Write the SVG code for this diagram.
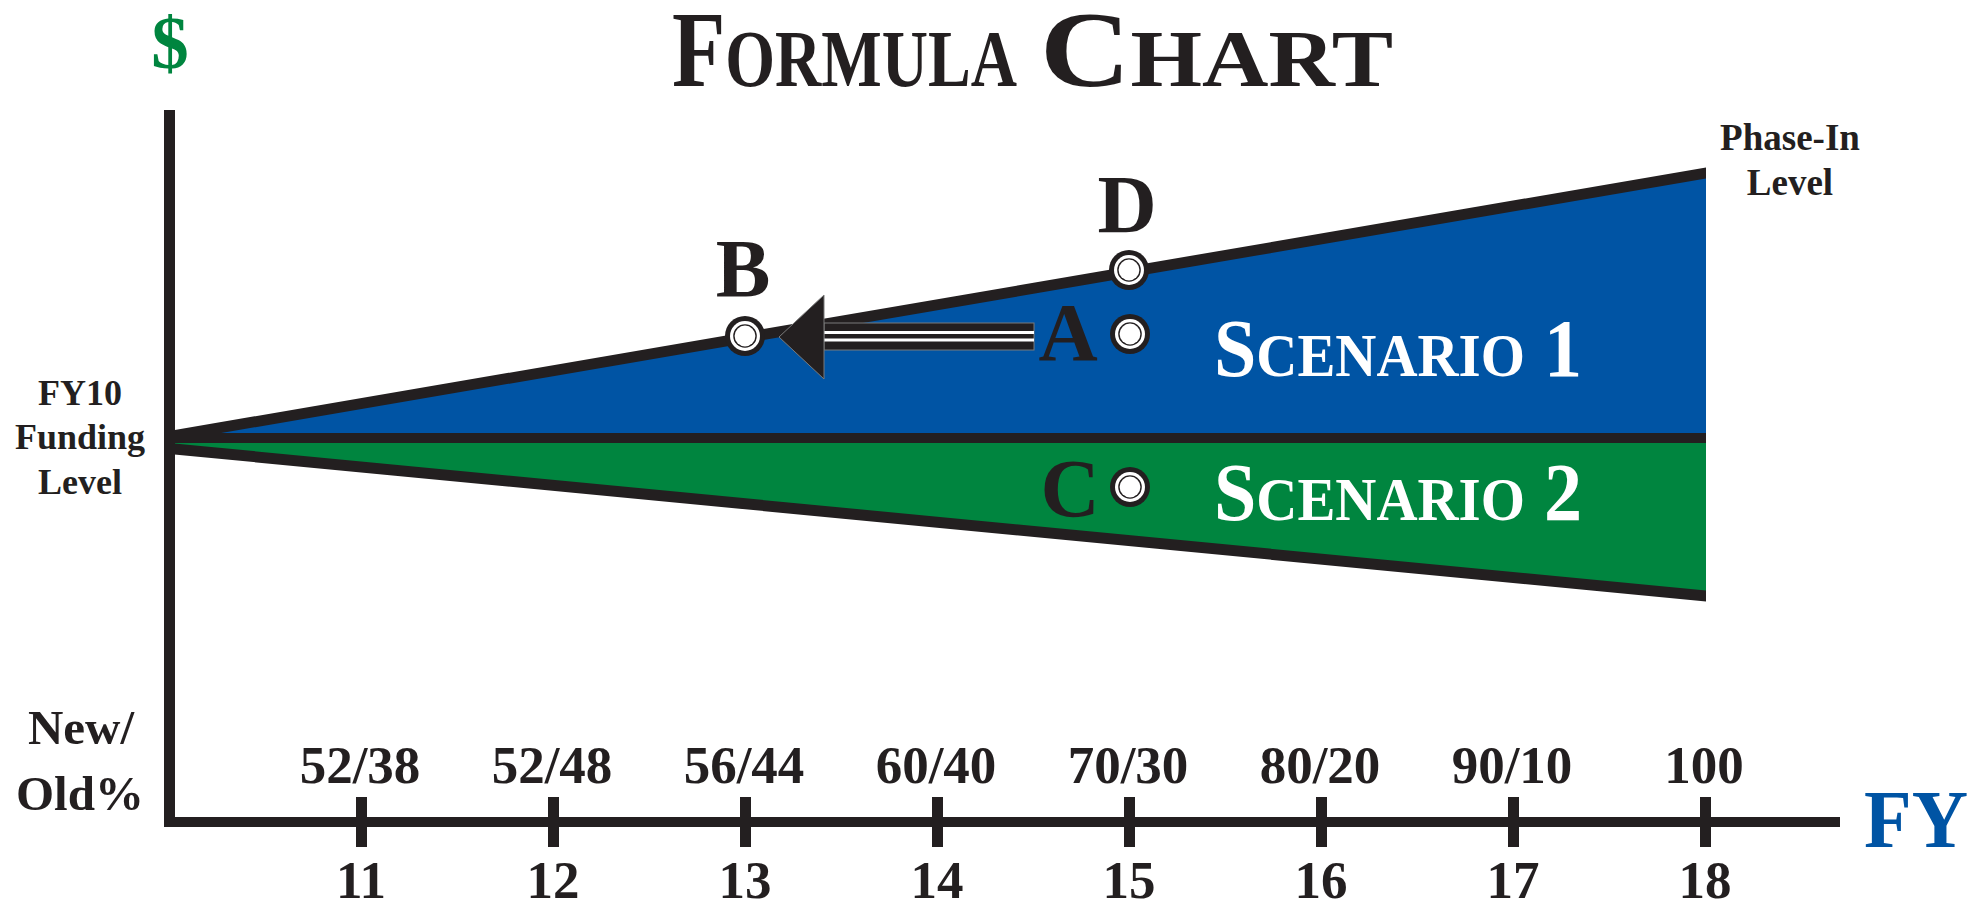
<svg xmlns="http://www.w3.org/2000/svg" xmlns:xlink="http://www.w3.org/1999/xlink" width="1984" height="904" viewBox="0 0 1984 904">
<style>
.t{font-family:"Liberation Serif","Times New Roman",serif;font-weight:bold;fill:#231f20}
.mid{text-anchor:middle}
.lbl{font-size:53px}
.side{font-size:36px}
.pt{font-size:82px}
.wh{fill:#ffffff}
.ink{fill:#231f20}
</style>
<defs>
<g id="dot">
<circle r="20" fill="#231f20"/>
<circle r="15" fill="#ffffff"/>
<circle r="11.8" fill="#231f20"/>
<circle r="10.4" fill="#ffffff"/>
</g>
</defs>
<rect width="1984" height="904" fill="#ffffff"/>

<g id="title">
<text class="t" x="672" y="86" font-size="109" textLength="345" lengthAdjust="spacingAndGlyphs">F<tspan font-size="80">ORMULA</tspan></text>
<text class="t" x="1040" y="86" font-size="109" textLength="353" lengthAdjust="spacingAndGlyphs">C<tspan font-size="80">HART</tspan></text>
</g>

<g id="dollar"><text class="t mid" x="170" y="68" font-size="75" style="fill:#00853f">$</text></g>

<g id="regions">
<polygon points="169,437 1706,173 1706,438 169,438" fill="#0054a4"/>
<polygon points="169,438 1706,438 1706,596 169,448" fill="#00853f"/>
<polygon points="169,431 1706,167.5 1706,178.5 169,442" class="ink"/>
<rect x="169" y="433" width="1537" height="10" class="ink"/>
<polygon points="169,443 1706,590.5 1706,601.5 169,454" class="ink"/>
</g>

<g id="axes">
<rect x="164" y="110" width="11" height="717" class="ink"/>
<rect x="164" y="817" width="1676" height="10" class="ink"/>
<rect x="356" y="797" width="11" height="50" class="ink"/>
<rect x="548" y="797" width="11" height="50" class="ink"/>
<rect x="740" y="797" width="11" height="50" class="ink"/>
<rect x="932" y="797" width="11" height="50" class="ink"/>
<rect x="1124" y="797" width="11" height="50" class="ink"/>
<rect x="1316" y="797" width="11" height="50" class="ink"/>
<rect x="1508" y="797" width="11" height="50" class="ink"/>
<rect x="1700" y="797" width="11" height="50" class="ink"/>
</g>

<g id="fy-label"><text class="t" x="1864" y="847" font-size="82" textLength="104" lengthAdjust="spacingAndGlyphs" style="fill:#0054a4">FY</text></g>

<g id="ratio-labels" class="t mid lbl">
<text x="360" y="783">52/38</text>
<text x="552" y="783">52/48</text>
<text x="744" y="783">56/44</text>
<text x="936" y="783">60/40</text>
<text x="1128" y="783">70/30</text>
<text x="1320" y="783">80/20</text>
<text x="1512" y="783">90/10</text>
<text x="1704" y="783">100</text>
</g>

<g id="year-labels" class="t mid lbl">
<text x="361" y="898">11</text>
<text x="553" y="898">12</text>
<text x="745" y="898">13</text>
<text x="937" y="898">14</text>
<text x="1129" y="898">15</text>
<text x="1321" y="898">16</text>
<text x="1513" y="898">17</text>
<text x="1705" y="898">18</text>
</g>

<g id="new-old" class="t mid" font-size="49">
<text x="81" y="744">New/</text>
<text x="80" y="810">Old%</text>
</g>

<g id="fy10" class="t mid side">
<text x="80" y="405">FY10</text>
<text x="80" y="449">Funding</text>
<text x="80" y="494">Level</text>
</g>

<g id="phase-in" class="t mid" font-size="37">
<text x="1790" y="150">Phase-In</text>
<text x="1790" y="195">Level</text>
</g>

<g id="scenario1"><text class="t wh" x="1214" y="376" font-size="83" textLength="368" lengthAdjust="spacingAndGlyphs">S<tspan font-size="62">CENARIO</tspan> 1</text></g>
<g id="scenario2"><text class="t wh" x="1214" y="520" font-size="83" textLength="368" lengthAdjust="spacingAndGlyphs">S<tspan font-size="62">CENARIO</tspan> 2</text></g>

<g id="connectors">
<g id="arrow-A-B" stroke="#7a7a7a" stroke-width="1">
<rect x="824" y="323" width="210" height="27" fill="#231f20"/>
<rect x="824" y="331" width="210" height="3" fill="#ffffff" stroke="none"/>
<rect x="824" y="338.5" width="210" height="3" fill="#ffffff" stroke="none"/>
<polygon points="779,337 824,295 824,379" fill="#231f20"/>
</g>
</g>

<g id="point-B"><use xlink:href="#dot" x="745" y="336"/><text class="t mid pt" x="743" y="296">B</text></g>
<g id="point-D"><use xlink:href="#dot" x="1129" y="270"/><text class="t mid pt" x="1127" y="232">D</text></g>
<g id="point-A"><use xlink:href="#dot" x="1130" y="334"/><text class="t mid pt" x="1068" y="360">A</text></g>
<g id="point-C"><use xlink:href="#dot" x="1130" y="487"/><text class="t mid pt" x="1070" y="516">C</text></g>
</svg>
